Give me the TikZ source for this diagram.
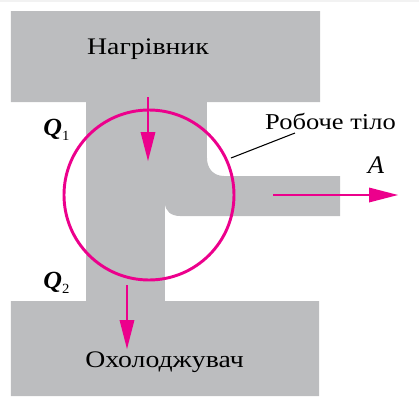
\documentclass[tikz,border=0pt]{standalone}
\usepackage{fontspec}
\setmainfont{Liberation Serif}
\definecolor{bodygray}{HTML}{BCBDBF}
\definecolor{accent}{HTML}{EC008C}
\newfontfamily\widefont[FakeStretch=1.17]{Liberation Serif}
\newfontfamily\widerfont[FakeStretch=1.05]{Liberation Serif}
\tikzset{
  x=0.75pt,y=-0.75pt,
  label text/.style={inner sep=0pt,text=black,font=\widefont\fontsize{17.8pt}{20pt}\selectfont},
  heat text/.style={inner sep=0pt,font=\widerfont\fontsize{18.5pt}{20pt}\selectfont\bfseries\itshape},
  flow/.style={accent,line width=2.2pt},
  flowhead/.style={fill=accent,draw=none},
}
\begin{document}
\begin{tikzpicture}
\useasboundingbox (0,0) rectangle (419,404);
\fill[black!5] (0,0) rectangle (419,1.5);
\fill[bodygray] (11,11) -- (320,11) -- (320,102) -- (207,102) -- (207,158)
  .. controls (207,168) and (213,176) .. (224,176) -- (340,176) -- (340,216) -- (180,216)
  .. controls (171,216) and (165,211) .. (165,203)
  -- (165,301) -- (319,301) -- (319,396) -- (11,396) -- (11,301) -- (86,301) -- (86,102) -- (11,102) -- cycle;
\node[label text] (heater) at (148,49) {Нагрівник};
\node[label text] (cooler) at (164.5,362) {Охолоджувач};
\node[label text,font=\widefont\fontsize{17pt}{20pt}\selectfont] (body) at (330.5,121) {Робоче тіло};
\node[heat text] (q1) at (56.5,130) {Q\raisebox{-4pt}{\fontsize{10.5pt}{12pt}\selectfont\mdseries\upshape 1}};
\node[heat text] (q2) at (56.5,283) {Q\raisebox{-4pt}{\fontsize{10.5pt}{12pt}\selectfont\mdseries\upshape 2}};
\node[inner sep=0pt,font=\widerfont\fontsize{19pt}{20pt}\selectfont\itshape] (work) at (376,165) {A};
\coordinate (cc) at (149,195);
\draw[flow] (cc) circle[radius=63.75pt];
\coordinate (a1) at (148,97); \coordinate (a1t) at (148,161);
\draw[flow] (a1) -- (148,135);
\fill[flowhead] (a1t) -- (140.5,132) -- (155.5,132) -- cycle;
\coordinate (a2) at (127,285); \coordinate (a2t) at (127,349);
\draw[flow] (a2) -- (127,323);
\fill[flowhead] (a2t) -- (119.5,320) -- (134.5,320) -- cycle;
\coordinate (a3) at (273,195); \coordinate (a3t) at (398,195);
\draw[flow] (a3) -- (372,195);
\fill[flowhead] (a3t) -- (369,187.5) -- (369,202.5) -- cycle;
\coordinate (lead) at (231,158); \coordinate (leadb) at (295,133);
\draw[black,line width=0.8pt] (lead) -- (leadb);
\end{tikzpicture}
\end{document}
